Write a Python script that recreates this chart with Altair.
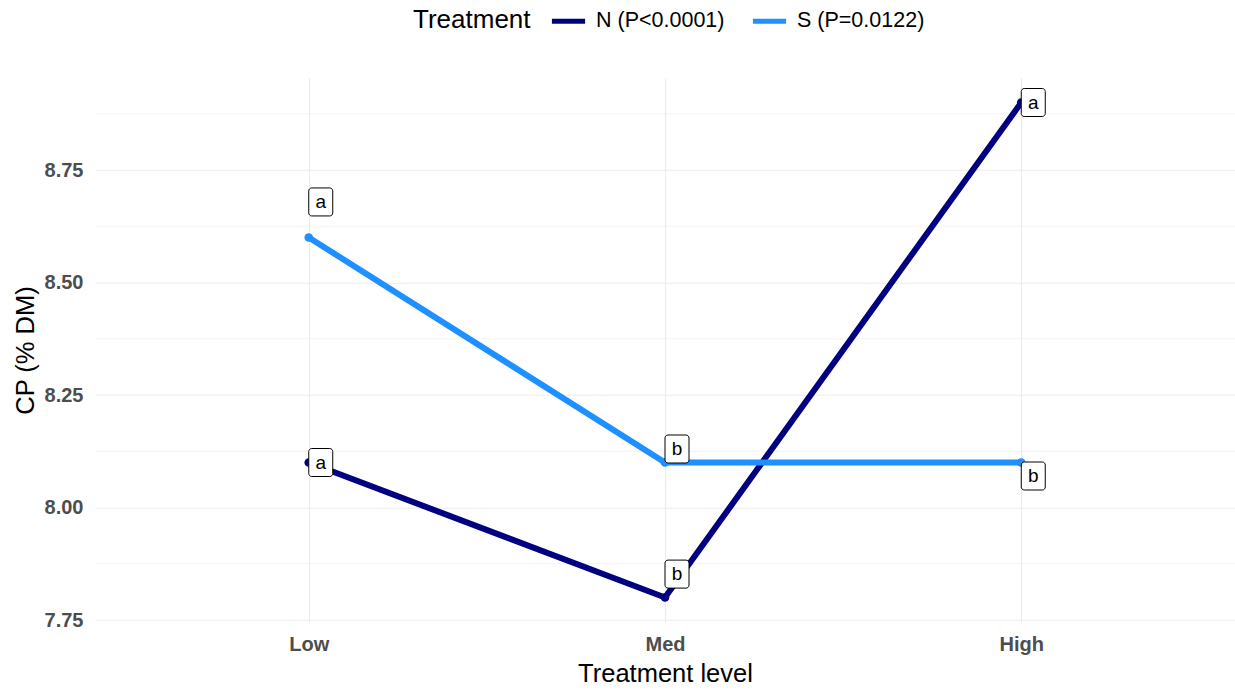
import altair as alt
import pandas as pd

levels = ["Low", "Med", "High"]
series = ["N (P<0.0001)", "S (P=0.0122)"]
n_cp = [8.10, 7.80, 8.90]
s_cp = [8.60, 8.10, 8.10]
n_letters = ["a", "b", "a"]
s_letters = ["a", "b", "b"]
n_label_y = [8.10, 7.852, 8.90]
s_label_y = [8.679, 8.130, 8.07]
major_y = [7.75, 8.00, 8.25, 8.50, 8.75]
minor_y = [7.875, 8.125, 8.375, 8.625, 8.875]
colors = ["#000080", "#1E90FF"]

rows = []
for name, vals, lets, lys in [(series[0], n_cp, n_letters, n_label_y),
                              (series[1], s_cp, s_letters, s_label_y)]:
    for lv, v, l, ly in zip(levels, vals, lets, lys):
        rows.append(dict(level=lv, cp=v, letter=l, label_y=ly, treatment=name))
df = pd.DataFrame(rows)
minor_df = pd.DataFrame({"v": minor_y})

FONT = "Liberation Sans"
yscale = alt.Scale(domain=[7.745, 8.955], nice=False, zero=False)
xscale = alt.Scale(type="point", padding=0.6, domain=levels)

x_axis = alt.Axis(title="Treatment level", labelAngle=0, domain=False, ticks=False,
                  grid=True, gridColor="#EBEBEB", gridWidth=1.1,
                  labelFontWeight="bold", labelColor="#4D4D4D", labelFontSize=20,
                  labelPadding=12, titleFontSize=25.5, titleFontWeight="normal",
                  titleColor="black", titlePadding=7, labelFont=FONT, titleFont=FONT)
y_axis = alt.Axis(title="CP (% DM)", values=major_y, format=".2f", domain=False, ticks=False,
                  grid=True, gridColor="#EBEBEB", gridWidth=1.1,
                  labelFontWeight="bold", labelColor="#4D4D4D", labelFontSize=20,
                  labelPadding=12, titleFontSize=25.5, titleFontWeight="normal",
                  titleColor="black", titlePadding=6, labelFont=FONT, titleFont=FONT)
color_scale = alt.Scale(domain=series, range=colors)
color_enc = alt.Color("treatment:N", scale=color_scale,
                      legend=alt.Legend(title="Treatment", orient="none", legendX=318, legendY=-76,
                                        direction="horizontal", titleOrient="left",
                                        titleBaseline="line-top", titleLineHeight=7,
                                        symbolType="stroke", symbolStrokeWidth=5, symbolSize=1100,
                                        labelFontSize=21.5, titleFontSize=26, titleFontWeight="normal",
                                        titleColor="black", labelColor="black", titlePadding=18,
                                        labelOffset=8, columnPadding=17, labelFont=FONT,
                                        titleFont=FONT))

base = alt.Chart(df)
x_plain = alt.X("level:O", scale=xscale, sort=levels)

minor = alt.Chart(minor_df).mark_rule(color="#EBEBEB", strokeWidth=0.6).encode(
    y=alt.Y("v:Q", scale=yscale, axis=y_axis),
    x=alt.value(0), x2=alt.value(1140))

lines = base.mark_line(strokeWidth=6).encode(
    x=alt.X("level:O", scale=xscale, sort=levels, axis=x_axis),
    y=alt.Y("cp:Q", scale=yscale, title="CP (% DM)"),
    color=color_enc)
points = base.mark_circle(size=75, opacity=1).encode(
    x=x_plain,
    y=alt.Y("cp:Q", scale=yscale),
    color=alt.Color("treatment:N", scale=color_scale, legend=None))
boxes = base.mark_rect(width=24, height=28, fill="white", stroke="black", strokeWidth=1,
                       cornerRadius=3, xOffset=12).encode(
    x=x_plain,
    y=alt.Y("label_y:Q", scale=yscale))
texts = base.mark_text(fontSize=19, font=FONT, color="black", dx=12, align="center",
                       baseline="middle").encode(
    x=x_plain,
    y=alt.Y("label_y:Q", scale=yscale),
    text="letter:N")

chart = alt.layer(minor, lines, points, boxes, texts).properties(
    width=1140, height=544.5,
    autosize=alt.AutoSizeParams(type="none"),
    padding={"left": 95, "top": 77.75, "right": 0, "bottom": 67.75},
).configure(background="white").configure_view(stroke=None)

chart.save("out.html", embed_options={"renderer": "svg", "actions": False})
